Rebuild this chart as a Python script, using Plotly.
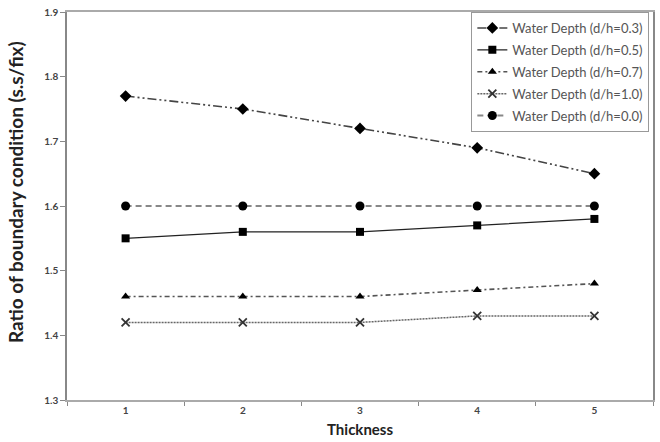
import plotly.graph_objects as go

thickness = ["1", "2", "3", "4", "5"]
names = [
    "Water Depth (d/h=0.3)",
    "Water Depth (d/h=0.5)",
    "Water Depth (d/h=0.7)",
    "Water Depth (d/h=1.0)",
    "Water Depth (d/h=0.0)",
]
dh03 = [1.77, 1.75, 1.72, 1.69, 1.65]
dh05 = [1.55, 1.56, 1.56, 1.57, 1.58]
dh07 = [1.46, 1.46, 1.46, 1.47, 1.48]
dh10 = [1.42, 1.42, 1.42, 1.43, 1.43]
dh00 = [1.60, 1.60, 1.60, 1.60, 1.60]

series = [dh03, dh05, dh07, dh10, dh00]
styles = [
    dict(line=dict(color="#444444", width=1.6, dash="9px,3px,2px,3px,2px,3px"),
         marker=dict(symbol="diamond", size=9, color="black")),
    dict(line=dict(color="#222222", width=1.3, dash="solid"),
         marker=dict(symbol="square", size=8, color="black")),
    dict(line=dict(color="#555555", width=1.6, dash="5px,3px,2px,3px"),
         marker=dict(symbol="triangle-up", size=8, color="black")),
    dict(line=dict(color="#666666", width=1.5, dash="2px,1px"),
         marker=dict(symbol="x-thin", size=8, color="#333333",
                     line=dict(width=1.8, color="#333333"))),
    dict(line=dict(color="#888888", width=2, dash="6px,4px"),
         marker=dict(symbol="circle", size=9, color="black")),
]

FONT = "Lato, 'Open Sans', sans-serif"

fig = go.Figure()
for i, (name, ys, st) in enumerate(zip(names, series, styles)):
    fig.add_trace(go.Scatter(x=thickness, y=ys, name=name, mode="lines+markers",
                             legendgroup=f"g{i}",
                             line=st["line"], marker=st["marker"]))

fig.update_layout(
    width=660, height=442,
    margin=dict(l=67, r=5, t=5, b=42),
    paper_bgcolor="white", plot_bgcolor="white",
    font=dict(family=FONT, color="#444444"),
    showlegend=True,
    legend=dict(
        x=0.69, y=1.0, xanchor="left", yanchor="top",
        bordercolor="#999999", borderwidth=1, bgcolor="white",
        font=dict(size=13, color="#555555", family=FONT),
        itemwidth=30, tracegroupgap=2,
    ),
    xaxis=dict(
        type="category", range=[-0.5, 4.5],
        showline=True, linecolor="#aaaaaa", linewidth=1.5, mirror=True,
        showgrid=False, zeroline=False,
        ticks="outside", tickson="boundaries", ticklen=4, tickcolor="#888888",
        tickfont=dict(size=10, color="#444444", family=FONT, weight="bold"),
        title=None,
    ),
    yaxis=dict(
        range=[1.3, 1.9], dtick=0.1, tickformat=".1f",
        showline=True, linecolor="#888888", linewidth=1.5, mirror=True,
        showgrid=False, zeroline=False,
        ticks="outside", ticklen=5, tickcolor="#888888",
        tickfont=dict(size=10, color="#444444", family=FONT, weight="bold"),
        title=None,
    ),
    annotations=[
        dict(text="<b>Ratio of boundary condition (s.s/fix)</b>", textangle=-90,
             xref="paper", yref="paper", x=-0.088, y=0.537,
             xanchor="center", yanchor="middle", showarrow=False,
             font=dict(size=19, color="#222222", family=FONT)),
        dict(text="<b>Thickness</b>",
             xref="paper", yref="paper", x=0.5, y=-0.104,
             xanchor="center", yanchor="bottom", showarrow=False,
             font=dict(size=15, color="#222222", family=FONT)),
    ],
)

fig.write_html("out.html")
